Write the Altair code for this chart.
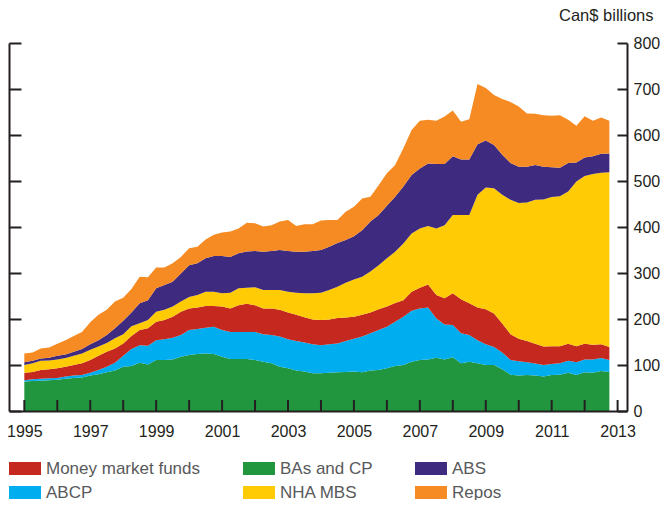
import altair as alt
import pandas as pd

# Quarterly observations, 1995Q1 .. 2012Q4
quarters = [1995 + 0.25 * i for i in range(72)]

# Series values (Can$ billions)
bas_cp = [64, 65, 66, 67, 68, 70, 72, 73, 77, 80, 84, 88, 96, 98, 105, 101,
          111, 111, 112, 118, 122, 124, 125, 124, 118, 113, 113, 113, 111, 107, 104, 96,
          93, 88, 86, 82, 82, 83, 84, 85, 86, 84, 88, 89, 93, 98, 100, 107,
          111, 112, 116, 112, 117, 104, 107, 104, 100, 100, 91, 79, 77, 78, 77, 75,
          78, 79, 83, 78, 84, 83, 87, 85]
abcp = [3, 4, 4, 4, 4, 5, 5, 5, 6, 9, 12, 17, 24, 37, 38, 41,
        43, 45, 47, 47, 54, 54, 56, 59, 58, 59, 59, 59, 61, 60, 61, 66,
        63, 64, 63, 63, 61, 62, 63, 67, 71, 78, 81, 87, 90, 96, 105, 111,
        112, 113, 85, 76, 70, 65, 58, 50, 45, 39, 36, 32, 31, 28, 26, 25,
        24, 25, 26, 28, 28, 29, 28, 26]
mmf = [16, 16, 19, 20, 21, 21, 23, 26, 28, 31, 33, 31, 27, 28, 33, 38,
       40, 42, 46, 51, 47, 47, 47, 45, 51, 51, 58, 61, 58, 56, 58, 58,
       58, 57, 55, 54, 55, 54, 55, 51, 48, 47, 45, 45, 44, 41, 36, 41,
       45, 50, 51, 57, 69, 74, 69, 71, 76, 73, 63, 56, 49, 46, 43, 40,
       39, 37, 37, 35, 34, 32, 30, 28]
nha_mbs = [17, 19, 20, 19, 19, 19, 20, 21, 22, 20, 19, 22, 20, 21, 15, 18,
           22, 22, 22, 22, 25, 27, 31, 31, 29, 34, 37, 35, 39, 40, 40, 43,
           45, 48, 52, 57, 59, 64, 68, 76, 81, 83, 89, 96, 105, 111, 123, 127,
           129, 127, 145, 159, 170, 183, 192, 245, 265, 272, 280, 292, 295, 301, 313, 320,
           324, 326, 331, 358, 365, 371, 373, 380]
abs_sec = [6, 5, 5, 6, 8, 8, 9, 10, 12, 14, 17, 22, 29, 30, 43, 43,
           51, 54, 54, 61, 69, 69, 73, 78, 81, 78, 76, 79, 79, 83, 85, 87,
           89, 89, 90, 92, 93, 94, 95, 93, 94, 101, 109, 109, 114, 120, 124, 127,
           130, 136, 140, 133, 128, 121, 121, 110, 102, 94, 87, 80, 79, 78, 76, 71,
           65, 62, 62, 41, 40, 39, 41, 41]
repos = [19, 18, 22, 22, 26, 31, 34, 37, 48, 55, 55, 58, 50, 51, 58, 50,
         45, 38, 40, 36, 37, 36, 41, 46, 51, 55, 54, 62, 60, 55, 56, 62,
         67, 56, 60, 58, 64, 58, 50, 61, 64, 69, 54, 65, 71, 69, 83, 98,
         104, 95, 94, 103, 99, 82, 87, 131, 114, 109, 121, 133, 131, 116, 111, 112,
         112, 114, 94, 80, 90, 77, 79, 71]

# Stack order, bottom to top
stack_names = ["BAs and CP", "ABCP", "Money market funds", "NHA MBS", "ABS", "Repos"]
stack_values = [bas_cp, abcp, mmf, nha_mbs, abs_sec, repos]

# Legend order and colours
legend_names = ["Money market funds", "BAs and CP", "ABS", "ABCP", "NHA MBS", "Repos"]
legend_colors = ["#C4281F", "#21963F", "#3E2A7E", "#00AEEF", "#FFCB05", "#F58B22"]

x_ticks = list(range(1995, 2014))
y_ticks = list(range(0, 900, 100))

rows = []
for rank, (name, vals) in enumerate(zip(stack_names, stack_values)):
    for t, v in zip(quarters, vals):
        rows.append({"t": t, "v": v, "series": name, "rank": rank})
df = pd.DataFrame(rows)
tick_df = pd.DataFrame({"t": x_ticks, "v": [0] * len(x_ticks)})

FONT = "Liberation Sans, Arial, Helvetica, sans-serif"
INK = "#231F20"

xscale = alt.Scale(domain=[1994.535, 2013.285], nice=False, zero=False)
yscale = alt.Scale(domain=[0, 800], nice=False)


def x_axis():
    return alt.Axis(orient="bottom", values=x_ticks, format="d",
                    labelExpr="datum.value % 2 == 1 ? datum.label : ''",
                    domain=True, domainColor=INK, domainWidth=2,
                    ticks=False, tickSize=0, grid=False,
                    labelPadding=12, labelFontSize=16, labelFont=FONT,
                    labelColor=INK, labelFlush=False, labelOverlap=False,
                    title=None, zindex=1)


areas = alt.Chart(df).mark_area(interpolate="linear", opacity=1).encode(
    x=alt.X("t:Q", scale=xscale, axis=x_axis()),
    y=alt.Y("v:Q", stack="zero", scale=yscale,
            axis=alt.Axis(orient="right", values=y_ticks, ticks=False, tickSize=0,
                          domain=True, domainColor=INK, domainWidth=2,
                          grid=True, gridColor=INK, gridWidth=2, gridOpacity=1, gridDash=[10, 2000],
                          labelPadding=6, labelFontSize=16, labelFont=FONT, labelColor=INK,
                          labelFlush=False,
                          title="Can$ billions", titleAngle=0, titleAlign="right",
                          titleBaseline="middle", titleX=26, titleY=-28,
                          titleFontSize=16.5, titleFont=FONT, titleFontWeight="normal",
                          titleColor=INK, zindex=1)),
    color=alt.Color("series:N",
                    scale=alt.Scale(domain=legend_names, range=legend_colors),
                    legend=alt.Legend(orient="none", legendX=0, legendY=409.5, columns=3,
                                      direction="horizontal", title=None,
                                      symbolType="M-1,-0.406H1V0.406H-1Z", symbolSize=1024,
                                      symbolStrokeWidth=0, symbolOpacity=1,
                                      labelFontSize=17, labelFont=FONT, labelColor="#58595B",
                                      labelOffset=5, columnPadding=42, rowPadding=0,
                                      labelLimit=300)),
    order=alt.Order("rank:Q", sort="ascending"),
)

# Year ticks standing up from the baseline, drawn over the areas
year_ticks = alt.Chart(tick_df).mark_tick(
    orient="vertical", size=11, thickness=2, color=INK, opacity=1, yOffset=-5.5
).encode(
    x=alt.X("t:Q", scale=xscale, axis=x_axis()),
    y=alt.Y("v:Q", scale=yscale, axis=None),
)

frame = alt.Chart(df).mark_line(opacity=0).encode(
    x=alt.X("t:Q", scale=xscale, axis=x_axis()),
    y=alt.Y("v:Q", scale=yscale,
            axis=alt.Axis(orient="left", values=y_ticks, labels=False, ticks=False, tickSize=0,
                          domain=True, domainColor=INK, domainWidth=2,
                          grid=True, gridColor=INK, gridWidth=2, gridOpacity=1, gridDash=[12, 2000],
                          title=None, zindex=1)),
)

chart = alt.layer(areas, year_ticks, frame).resolve_axis(y="independent").properties(
    width=618, height=368,
    autosize=alt.AutoSizeParams(type="none"),
    padding={"left": 1, "top": 35, "right": 33, "bottom": 89},
    background="white",
).configure_view(stroke=None)

chart.save("out.html", embed_options={"renderer": "svg", "actions": False})
